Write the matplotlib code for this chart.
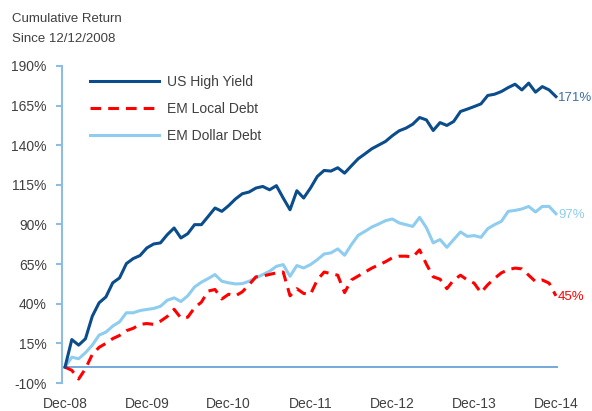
import numpy as np
import matplotlib
matplotlib.use('Agg')
import matplotlib.pyplot as plt

plt.rcParams['font.family'] = ['Liberation Sans', 'DejaVu Sans']

# Monthly cumulative returns (%), Dec-08 .. Dec-14
us_high_yield = [
    0, 17.4, 13.9, 17.9, 32.1, 40.6, 44.3, 53.2, 56.3, 65.3, 68.5, 70.4,
    75.2, 77.7, 78.4, 83.6, 87.8, 81.5, 84.2, 89.9, 89.9, 95.1, 100.4, 98.3,
    101.9, 106.1, 109.4, 110.5, 113.0, 114.0, 111.9, 114.5, 106.7, 99.3, 111.3, 106.7,
    113.0, 120.3, 124.1, 123.7, 125.8, 122.4, 127.0, 131.5, 134.6, 137.8, 140.1, 142.4,
    146.0, 149.1, 150.8, 153.3, 157.5, 156.0, 149.3, 154.3, 152.5, 155.0, 161.3, 162.8,
    164.4, 166.1, 171.4, 172.2, 173.9, 176.4, 178.5, 174.9, 179.2, 173.5, 177.0, 174.9,
    170.7,
]
em_local_debt = [
    0, -2, -7.5, -1, 8, 12.5, 15, 18, 20, 23, 24.5, 27,
    27.5, 27, 29, 32, 36.5, 31, 31.5, 37.5, 41, 48, 49, 43,
    46, 45, 47.5, 52, 57, 57.5, 58.5, 59.5, 60, 45, 49.5, 46.5,
    46, 55, 60, 59, 58, 47, 55, 57.5, 60, 62.5, 64.5, 66.5,
    69, 70, 70, 69.5, 74, 65, 57, 55.5, 49.5, 55, 58, 55,
    53, 47, 52, 56, 59.5, 61.5, 62.5, 62, 58, 54, 55, 53,
    45,
]
em_dollar_debt = [
    0, 6.3, 5.3, 9.1, 13.9, 20.2, 22.1, 25.9, 28.6, 34.3, 34.3, 35.7,
    36.4, 37.0, 38.4, 42.2, 43.7, 41.4, 45.0, 50.6, 53.6, 55.9, 58.4, 54.2,
    53.2, 52.5, 52.7, 54.2, 56.3, 58.4, 60.5, 63.6, 64.7, 57.3, 64.1, 62.6,
    64.7, 67.8, 71.4, 72.1, 74.6, 70.6, 77.3, 83.2, 85.7, 88.4, 90.3, 92.4,
    93.5, 91.0, 89.9, 88.8, 94.5, 88.0, 78.4, 80.5, 75.6, 80.5, 85.3, 82.5,
    83.0, 81.9, 87.4, 89.9, 92.0, 98.3, 98.9, 99.8, 101.4, 97.9, 101.4, 101.4,
    96.8,
]
year_labels = ['Dec-08', 'Dec-09', 'Dec-10', 'Dec-11', 'Dec-12', 'Dec-13', 'Dec-14']
y_ticks = [-10, 15, 40, 65, 90, 115, 140, 165, 190]

months = np.arange(len(us_high_yield))

c_hy = '#0b4d8c'
c_local = '#ff0000'
c_dollar = '#8ecdf0'
c_axis = '#8dbde4'
c_base = '#5b9bd5'
c_text = '#404040'

fig = plt.figure(figsize=(5.92, 4.11), dpi=100)
ax = fig.add_axes([62 / 592, 28 / 411, 496 / 592, 317 / 411])

ax.plot(months, us_high_yield, color=c_hy, lw=2.2, label='US High Yield', zorder=4)
ax.plot(months, em_local_debt, color=c_local, lw=2.2, dashes=(3.5, 2.3),
        label='EM Local Debt', zorder=3)
ax.plot(months, em_dollar_debt, color=c_dollar, lw=2.2, label='EM Dollar Debt', zorder=2)

# zero line acting as the x axis
ax.axhline(0, color=c_base, lw=1.2, zorder=1)

ax.set_xlim(-0.44, 72.3)
ax.set_ylim(-10, 190)

ax.set_yticks(y_ticks)
ax.set_yticklabels([f'{v}%' for v in y_ticks])
ax.set_xticks(np.arange(0, 73, 12))
ax.set_xticklabels(year_labels)

for side in ['top', 'right', 'bottom']:
    ax.spines[side].set_visible(False)
ax.spines['left'].set_color(c_axis)
ax.spines['left'].set_linewidth(1.5)

ax.tick_params(axis='y', colors=c_axis, length=4, width=1.5, pad=7,
               labelsize=10, labelcolor=c_text)
ax.tick_params(axis='x', length=0, pad=10, labelsize=10, labelcolor=c_text)

# end-of-series labels
ends = [(us_high_yield, '#3b6fa8'), (em_dollar_debt, c_dollar), (em_local_debt, c_local)]
for series, tc in ends:
    ax.annotate(f'{series[-1]:.0f}%', xy=(months[-1], series[-1]),
                xytext=(1.5, -1), textcoords='offset points',
                va='center', ha='left', fontsize=9.5, color=tc, annotation_clip=False)

leg = ax.legend(loc='upper left', bbox_to_anchor=(90 / 592, 1 - 75 / 411),
                bbox_transform=fig.transFigure, frameon=False, fontsize=10,
                handlelength=5.0, handletextpad=0.55, labelspacing=0.92,
                borderaxespad=0, borderpad=0)
for t in leg.get_texts():
    t.set_color(c_text)

fig.text(12 / 592, 1 - 19 / 411, 'Cumulative Return', fontsize=9.5,
         color=c_text, va='center', ha='left')
fig.text(12 / 592, 1 - 39 / 411, 'Since 12/12/2008', fontsize=9.5,
         color=c_text, va='center', ha='left')

fig.savefig('out.png', dpi=100)
